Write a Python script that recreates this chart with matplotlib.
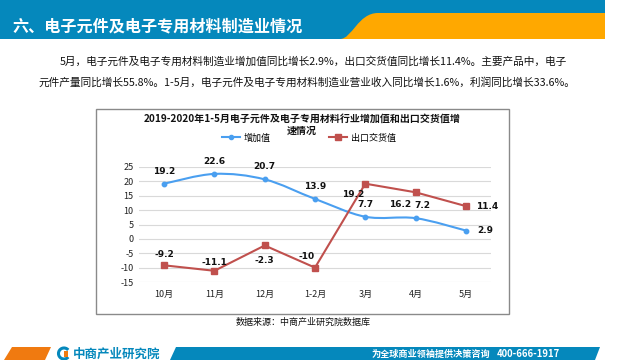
import matplotlib
matplotlib.use("Agg")
import matplotlib.pyplot as plt
import matplotlib.patches as mpatches
from matplotlib.path import Path
from matplotlib.lines import Line2D
import numpy as np

plt.rcParams['font.family'] = ['Noto Sans CJK SC', 'DejaVu Sans']

# ---------------- data ----------------
categories = ["10月", "11月", "12月", "1-2月", "3月", "4月", "5月"]
added_value = [19.2, 22.6, 20.7, 13.9, 7.7, 7.2, 2.9]
export_value = [-9.2, -11.1, -2.3, -10, 19.2, 16.2, 11.4]
yticks = [-15, -10, -5, 0, 5, 10, 15, 20, 25]
series_names = ["增加值", "出口交货值"]

header_title = "六、电子元件及电子专用材料制造业情况"
para1 = "5月，电子元件及电子专用材料制造业增加值同比增长2.9%，出口交货值同比增长11.4%。主要产品中，电子"
para2 = "元件产量同比增长55.8%。1-5月，电子元件及电子专用材料制造业营业收入同比增长1.6%，利润同比增长33.6%。"
chart_title_1 = "2019-2020年1-5月电子元件及电子专用材料行业增加值和出口交货值增"
chart_title_2 = "速情况"
source = "数据来源：中商产业研究院数据库"

BLUE_HDR = "#0588BC"
ORANGE = "#FFA800"
LINE_BLUE = "#4A9FF0"
LINE_RED = "#C0504D"

W, H = 640, 360
fig = plt.figure(figsize=(6.4, 3.6), dpi=100)

# background axes in pixel coordinates
bg = fig.add_axes([0, 0, 1, 1])
bg.set_xlim(0, W)
bg.set_ylim(H, 0)
bg.axis('off')

# header
bg.add_patch(mpatches.Rectangle((0, 0), 605, 39, color=BLUE_HDR, lw=0))
verts = [(340, 39), (352, 39), (358, 13), (378, 13), (605, 13), (605, 39), (340, 39)]
codes = [Path.MOVETO, Path.CURVE4, Path.CURVE4, Path.CURVE4, Path.LINETO, Path.LINETO, Path.CLOSEPOLY]
bg.add_patch(mpatches.PathPatch(Path(verts, codes), color=ORANGE, lw=0))
bg.text(12, 26, header_title, color='white', fontsize=11.6, fontweight='bold', va='center', ha='left')

# paragraph
bg.text(60, 62, para1, fontsize=7.7, va='center', ha='left', color='#111111')
bg.text(38, 82, para2, fontsize=7.7, va='center', ha='left', color='#111111')

# chart box
bg.add_patch(mpatches.Rectangle((95.5, 108.5), 413.5, 205.5, fill=False, ec='#8a8a8a', lw=1.0))
bg.text(302, 119, chart_title_1, fontsize=7.2, fontweight='bold', ha='center', va='center', color='#111111')
bg.text(302, 131, chart_title_2, fontsize=7.2, fontweight='bold', ha='center', va='center', color='#111111')
bg.text(303, 322, source, fontsize=6.5, ha='center', va='center', color='#111111')

# bottom bar
bg.add_patch(mpatches.Polygon([(4, 360), (12, 347), (51, 347), (45, 360)], color="#F07A10", lw=0))
bg.add_patch(mpatches.Polygon([(170, 360), (176, 347), (600, 347), (595, 360)], color=BLUE_HDR, lw=0))
bg.add_patch(mpatches.Arc((64, 353.5), 11, 11, theta1=40, theta2=320, color=BLUE_HDR, lw=2.2))
bg.add_patch(mpatches.Rectangle((64, 350.5), 4, 6, color="#F07A10", lw=0))
bg.text(73, 354, "中商产业研究院", fontsize=9, color=BLUE_HDR, fontweight='bold', ha='left', va='center')
bg.text(372, 354, "为全球商业领袖提供决策咨询", fontsize=6.6, color='white', fontweight='bold', ha='left', va='center')
bg.text(497, 354, "400-666-1917", fontsize=6.8, color='white', fontweight='bold', ha='left', va='center')

# ---------------- main plot ----------------
x0, x1 = 139, 491
ytop, ybot = 167, 282
ax = fig.add_axes([x0 / W, 1 - ybot / H, (x1 - x0) / W, (ybot - ytop) / H])
ax.patch.set_alpha(0)
n = len(categories)
xs = np.arange(n)
ax.set_xlim(-0.5, n - 0.5)
ax.set_ylim(-15, 25)
ax.set_yticks(yticks)
ax.set_yticklabels([str(v) for v in yticks], fontsize=6.5, color='#222222')
ax.set_xticks(xs)
ax.set_xticklabels(categories, fontsize=6.5, color='#222222')
ax.tick_params(length=0, pad=4)
ax.tick_params(axis='x', pad=6)
for s in ax.spines.values():
    s.set_visible(False)
ax.grid(axis='y', color='#d9d9d9', lw=0.8)
ax.set_axisbelow(True)

# smooth blue line (Catmull-Rom -> Bezier in data coords)
pts = list(zip(xs.astype(float), added_value))
verts = [pts[0]]
codes = [Path.MOVETO]
for i in range(n - 1):
    p0 = pts[i - 1] if i > 0 else pts[i]
    p1 = pts[i]
    p2 = pts[i + 1]
    p3 = pts[i + 2] if i + 2 < n else pts[i + 1]
    c1 = (p1[0] + (p2[0] - p0[0]) / 6, p1[1] + (p2[1] - p0[1]) / 6)
    c2 = (p2[0] - (p3[0] - p1[0]) / 6, p2[1] - (p3[1] - p1[1]) / 6)
    verts += [c1, c2, p2]
    codes += [Path.CURVE4] * 3
ax.add_patch(mpatches.PathPatch(Path(verts, codes), fill=False, ec=LINE_BLUE, lw=1.5, zorder=3))
ax.plot(xs, added_value, ls='none', marker='o', ms=3.2, color=LINE_BLUE, zorder=4)

ax.plot(xs, export_value, color=LINE_RED, lw=1.5, marker='s', ms=4.5, zorder=3)

lbl = dict(fontsize=6.5, color='#111111', fontweight='bold', family='DejaVu Sans')
blue_off = [(0, 9), (0, 9), (0, 9), (0, 9), (0, 9), (5, 9), (14, 0)]
for i, v in enumerate(added_value):
    dx, dy = blue_off[i]
    ax.annotate(f"{v:g}", (xs[i], v), xytext=(dx, dy), textcoords='offset points',
                ha='center', va='center', **lbl)
red_off = [(0, 8), (0, 6), (0, -11), (-6, 8), (-9, -8), (-11, -9), (15, 0)]
for i, v in enumerate(export_value):
    dx, dy = red_off[i]
    ax.annotate(f"{v:g}", (xs[i], v), xytext=(dx, dy), textcoords='offset points',
                ha='center', va='center', **lbl)

handles = [Line2D([], [], color=LINE_BLUE, lw=1.5, marker='o', ms=3),
           Line2D([], [], color=LINE_RED, lw=1.5, marker='s', ms=4)]
fig.legend(handles, series_names, loc='center', ncol=2, frameon=False, fontsize=6.5,
           bbox_to_anchor=(309 / W, 1 - 138 / H), handlelength=2.0, columnspacing=6.5,
           handletextpad=0.4)

fig.savefig("out.png", dpi=100)
